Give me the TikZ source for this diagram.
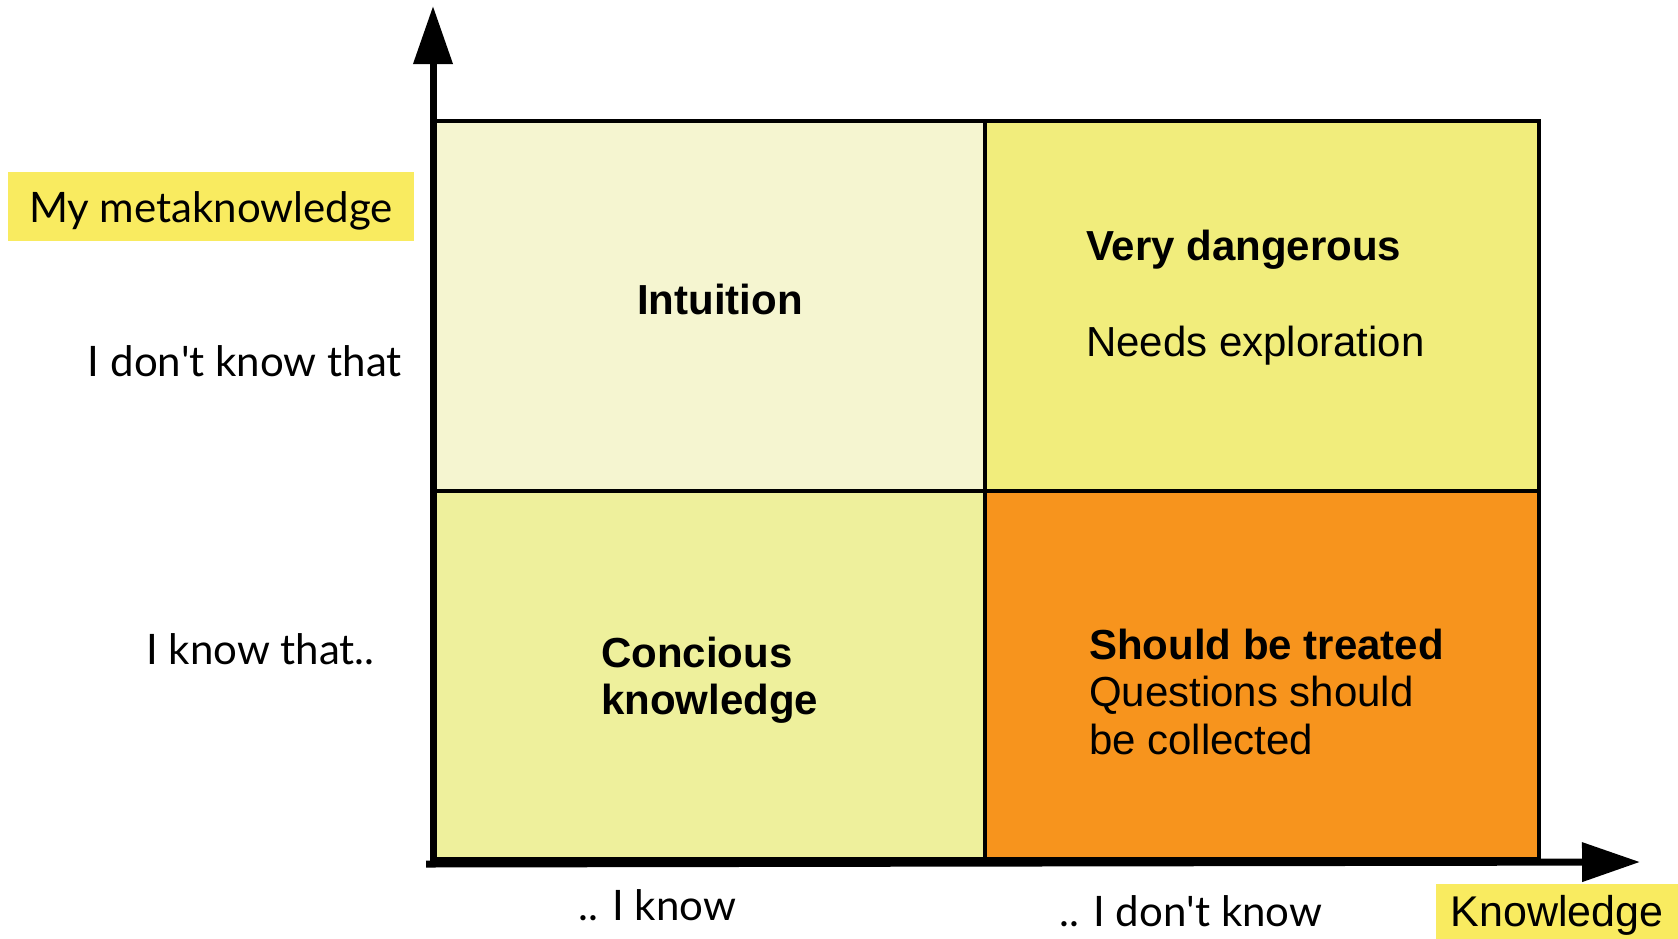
\documentclass[tikz,border=0pt]{standalone}
\usepackage{fontspec}
\setmainfont{Liberation Sans}
\newfontfamily\latofont{Lato}
\usetikzlibrary{arrows.meta}
\definecolor{intuitcol}{HTML}{F5F5D0}
\definecolor{dangercol}{HTML}{F1ED7C}
\definecolor{consccol}{HTML}{EEF09C}
\definecolor{treatcol}{HTML}{F7941D}
\definecolor{tagcol}{HTML}{F9EB60}
\begin{document}
\begin{tikzpicture}[x=1pt,y=-1pt,
  quad/.style={draw=black, line width=3.5pt, inner sep=0pt, anchor=north west},
  axisline/.style={line width=7pt, -{Triangle[length=58pt,width=38pt]}},
  lab/.style={inner sep=0pt, anchor=base west, font=\fontsize{42}{48}\selectfont},
  boldlab/.style={lab, font=\bfseries\fontsize{42}{48}\selectfont},
  side/.style={inner sep=0pt, font=\latofont\fontsize{42}{48}\selectfont},
  tag/.style={fill=tagcol, inner sep=0pt}]
\useasboundingbox (0,0) rectangle (1678,938);
% quadrants
\node[quad, fill=intuitcol, minimum width=550pt, minimum height=370pt] (qintuit) at (433,119){};
\node[quad, fill=dangercol, minimum width=554pt, minimum height=370pt] (qdanger) at (983,119){};
\node[quad, fill=consccol, minimum width=550pt, minimum height=368pt] (qconsc) at (433,489){};
\node[quad, fill=treatcol, minimum width=554pt, minimum height=368pt] (qtreat) at (983,489){};
% axes
\coordinate (orig) at (433,864);
\coordinate (ytop) at (433,6);
\coordinate (xstart) at (426,864);
\coordinate (xend) at (1640,862);
\draw[axisline] (orig) -- (ytop);
\draw[axisline] (xstart) -- (xend);
% quadrant texts
\node[boldlab, anchor=base] (intuit) at (720,314){Intuition};
\node[boldlab] (danger) at (1086,260){Very dangerous};
\node[lab] (explore) at (1086,356){Needs exploration};
\node[boldlab] (consc1) at (601,667){Concious};
\node[boldlab] (consc2) at (601,714){knowledge};
\node[boldlab] (treat) at (1089,659){Should be treated};
\node[lab] (quest1) at (1089,706){Questions should};
\node[lab] (quest2) at (1089,754){be collected};
% axis labels
\node[tag, side, minimum width=406pt, text height=50pt, text depth=19pt, anchor=base] (meta) at (211,222){My metaknowledge};
\node[side, anchor=base east] (dontthat) at (402,376){I don\textquotesingle t know that};
\node[side, anchor=base west] (knowthat) at (146,664){I know that..};
\node[side, anchor=base west] (iknow) at (578,920){.. I know};
\node[side, anchor=base west] (idont) at (1059,926){.. I don\textquotesingle t know};
\node[tag, minimum width=242pt, text height=42pt, text depth=14pt, anchor=base, font=\fontsize{43}{48}\selectfont] (knowl) at (1557,926){Knowledge};
\end{tikzpicture}
\end{document}
